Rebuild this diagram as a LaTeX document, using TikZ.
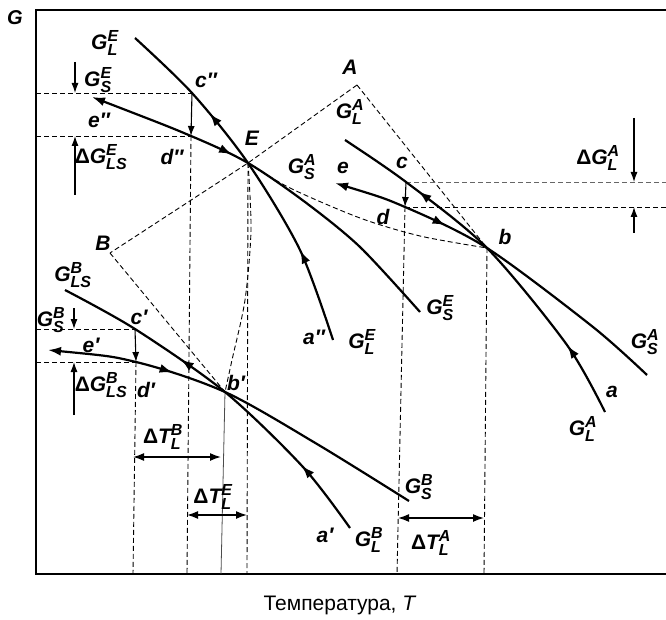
\documentclass[tikz,border=0pt]{standalone}
\usepackage{amsmath}
\usepackage{fontspec}
\setmainfont{Liberation Sans}
\usetikzlibrary{arrows.meta, decorations.markings}
\DeclareMathSizes{21}{21}{16}{12}
\newcommand{\lblfont}{\fontsize{21}{25}\selectfont\bfseries\itshape}
\newcommand{\Gsym}[2]{$\textit{G}^{\textit{#1}}_{\textit{#2}}$}

\begin{document}
\begin{tikzpicture}[x=1pt, y=-1pt,
    >={Latex[length=10pt,width=7pt]},
    lbl/.style={font=\lblfont, inner sep=0pt},
    frame/.style={line width=2.4pt},
    curve/.style={line width=2.2pt},
    guide/.style={line width=0.9pt, dash pattern=on 5pt off 3pt},
    pin/.style={line width=1.1pt, ->},
    span/.style={line width=1.5pt, {Latex[length=11pt,width=8pt]}-{Latex[length=11pt,width=8pt]}},
    fwd/.style={postaction={decorate, decoration={markings,
        mark=at position #1 with {\arrow{Latex[length=13pt,width=9pt]}}}}},
    bwd/.style={postaction={decorate, decoration={markings,
        mark=at position #1 with {\arrowreversed{Latex[length=13pt,width=9pt]}}}}},
]
\useasboundingbox (0,0) rectangle (666,620);

% frame
\draw[frame] (666,10) -- (36,10) -- (36,574) -- (666,574);

% key points
\coordinate (A)   at (357,85);
\coordinate (B)   at (110,253);
\coordinate (E)   at (248,163);
\coordinate (b)   at (487,248);
\coordinate (bp)  at (225,392);
\coordinate (cpp) at (192,93);
\coordinate (dpp) at (191,136);
\coordinate (c)   at (406,182);
\coordinate (d)   at (405,207);
\coordinate (cp)  at (135,329);
\coordinate (dp)  at (136,362);

% feet on the T axis
\coordinate (dpp0) at (187,574);
\coordinate (E0)   at (247,574);
\coordinate (dp0)  at (133,574);
\coordinate (bp0)  at (221,574);
\coordinate (d0)   at (397,574);
\coordinate (b0)   at (484,574);

% triangle and projections
\draw[guide] (A) -- (E) -- (B);
\draw[guide] (A) -- (b);
\draw[guide] (B) -- (bp);
\draw[guide] plot[smooth] coordinates {(E) (290,188) (360,218) (420,236) (b)};
\draw[guide] plot[smooth] coordinates {(E) (251,230) (245,300) (232,360) (bp)};

% horizontal guides
\draw[guide] (36,93) -- (cpp);
\draw[guide] (36,136) -- (dpp);
\draw[guide] (36,329) -- (cp);
\draw[guide] (36,362) -- (dp);
\draw[guide, black!60] (c) -- (666,182);
\draw[guide] (d) -- (666,207);

% vertical guides
\draw[guide] (dpp) -- (dpp0);
\draw[guide] (E) -- (E0);
\draw[guide] (dp) -- (dp0);
\draw[line width=0.8pt, black!70] (bp) -- (bp0);
\draw[guide] (d) -- (d0);
\draw[guide] (b) -- (b0);

% curves for E
\draw[curve, bwd=0.29, bwd=0.74]
  plot[smooth] coordinates {(135,38) (cpp) (E) (300,250) (333,340)};
\draw[curve, {Latex[length=13pt,width=9pt]}-, fwd=0.38]
  plot[smooth] coordinates {(92,97) (dpp) (E) (305,202) (360,247) (420,312)};

% curves for A
\draw[curve, bwd=0.235, bwd=0.80]
  plot[smooth] coordinates {(345,140) (c) (b) (567,345) (605,412)};
\draw[curve, {Latex[length=13pt,width=9pt]}-, fwd=0.32]
  plot[smooth] coordinates {(335,183) (d) (b) (593,327) (647,375)};

% curves for B
\draw[curve, bwd=0.36, bwd=0.79]
  plot[smooth] coordinates {(65,290) (cp) (bp) (303,467) (350,528)};
\draw[curve, {Latex[length=13pt,width=9pt]}-, fwd=0.32]
  plot[smooth] coordinates {(48,350) (dp) (bp) (317,444) (409,501)};

% small vertical arrows
\draw[pin] (75,62) -- (75,93);
\draw[pin] (75,195) -- (75,136);
\draw[pin] (cpp) -- (dpp);
\draw[pin] (74,308) -- (74,329);
\draw[pin] (74,415) -- (74,362);
\draw[pin] (cp) -- (dp);
\draw[pin] (c) -- (d);
\draw[pin] (634,118) -- (634,182);
\draw[pin] (634,233) -- (634,207);

% temperature spans
\draw[span] (133,457) -- (221,457);
\draw[span] (187,515) -- (247,515);
\draw[span] (398,518) -- (484,518);

% labels
\node[lbl, font=\fontsize{20}{24}\selectfont\bfseries\itshape] (Gax) at (15,18) {G};
\node[font=\fontsize{21}{25}\selectfont] (Tax) at (340,605) {Температура, \textit{T}};

\node[lbl] (lA)  at (350,67)  {A};
\node[lbl] (lB)  at (103,243) {B};
\node[lbl] (lE)  at (252,138) {E};
\node[lbl] (lb)  at (505,237) {b};
\node[lbl] (lbp) at (236,383) {b′};
\node[lbl] (lc)  at (402,163) {c};
\node[lbl] (ld)  at (383,217) {d};
\node[lbl] (le)  at (343,168) {e};
\node[lbl] (lcp) at (139,317) {c′};
\node[lbl] (ldp) at (146,390) {d′};
\node[lbl] (lep) at (91,345)  {e′};
\node[lbl] (lcpp) at (206,80) {c″};
\node[lbl] (ldpp) at (172,157) {d″};
\node[lbl] (lepp) at (99,120) {e″};
\node[lbl] (la)  at (612,392) {a};
\node[lbl] (lap) at (325,535) {a′};
\node[lbl] (lapp) at (314,337) {a″};

\node[lbl] (GLE1) at (105,43)  {\Gsym{E}{L}};
\node[lbl] (GSE1) at (98,80)   {\Gsym{E}{S}};
\node[lbl] (DGE)  at (101,157) {\textup{Δ}\Gsym{E}{LS}};
\node[lbl] (GLE2) at (362,342) {\Gsym{E}{L}};
\node[lbl] (GSE2) at (440,308) {\Gsym{E}{S}};

\node[lbl] (GLA1) at (350,112) {\Gsym{A}{L}};
\node[lbl] (GSA1) at (302,167) {\Gsym{A}{S}};
\node[lbl] (DGA)  at (598,158) {\textup{Δ}\Gsym{A}{L}};
\node[lbl] (GSA2) at (645,342) {\Gsym{A}{S}};
\node[lbl] (GLA2) at (583,429) {\Gsym{A}{L}};

\node[lbl] (GLB1) at (73,275)  {\Gsym{B}{LS}};
\node[lbl] (GSB1) at (51,320)  {\Gsym{B}{S}};
\node[lbl] (DGB)  at (101,385) {\textup{Δ}\Gsym{B}{LS}};
\node[lbl] (GSB2) at (419,487) {\Gsym{B}{S}};
\node[lbl] (GLB2) at (369,540) {\Gsym{B}{L}};

\node[lbl] (DTB) at (163,437) {\textup{Δ}$\textit{T}^{\textit{B}}_{\textit{L}}$};
\node[lbl] (DTE) at (213,497) {\textup{Δ}$\textit{T}^{\textit{E}}_{\textit{L}}$};
\node[lbl] (DTA) at (431,543) {\textup{Δ}$\textit{T}^{\textit{A}}_{\textit{L}}$};
\end{tikzpicture}
\end{document}
